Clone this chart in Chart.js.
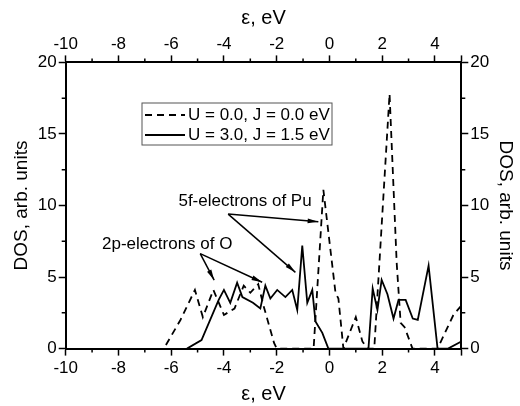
<!DOCTYPE html>
<html>
<head>
<meta charset="utf-8">
<script src="https://cdn.jsdelivr.net/npm/chart.js@4.4.1/dist/chart.umd.min.js"></script>
<style>
  html, body { margin: 0; padding: 0; background: #fff; }
  #wrap { width: 520px; height: 406px; }
</style>
</head>
<body>
<div id="wrap"><canvas id="mychart"></canvas></div>
<script>
// DOS curves (energy in eV, DOS in arb. units)
let dashedX = [-6.2, -5.65, -5.1, -4.8, -4.4, -4.0, -3.6, -3.25, -3.0, -2.7, -2.5, -2.1, -2.0, -0.6, -0.23, 0.23, 0.34, 0.53, 1.0, 1.25, 1.44, 1.7, 2.28, 2.55, 2.7, 2.85, 3.15, 4.1, 4.7, 5.0];
let dashedY = [0.25, 2.0, 4.1, 2.2, 4.1, 2.35, 2.8, 4.4, 3.9, 4.5, 3.0, 0.4, 0, 0, 11.1, 3.9, 3.5, 0, 2.2, 0.5, 0, 0, 17.8, 6.0, 1.8, 1.5, 0, 0, 2.35, 3.0];
let solidX = [-5.4, -4.85, -4.2, -4.0, -3.76, -3.5, -3.3, -2.9, -2.62, -2.43, -2.24, -1.98, -1.67, -1.41, -1.22, -1.03, -0.84, -0.65, -0.53, -0.27, -0.04, 1.48, 1.64, 1.82, 1.98, 2.2, 2.43, 2.62, 2.89, 3.16, 3.35, 3.76, 4.1, 4.5, 5.0];
let solidY = [0, 0.6, 3.4, 4.1, 3.2, 4.6, 3.6, 3.2, 2.8, 4.4, 3.5, 4.1, 3.6, 4.1, 2.7, 7.2, 3.2, 4.1, 1.9, 1.1, 0, 0, 4.2, 2.7, 4.8, 3.8, 2.1, 3.4, 3.4, 2.1, 2.0, 5.8, 0, 0, 0.5];

let seriesLabels = ['U = 0.0, J = 0.0 eV', 'U = 3.0, J = 1.5 eV'];
let xMin = -10, xMax = 5, yMin = 0, yMax = 20;

// annotations: text anchor and arrow start/tips in data units
let notes = [
  { text: '5f-electrons of Pu', at: [-3.2, 10.3], from: [-3.84, 9.4], tips: [[-0.42, 8.86], [-1.29, 5.33]] },
  { text: '2p-electrons of O', at: [-6.15, 7.3], from: [-4.9, 6.64], tips: [[-4.37, 4.78], [-2.55, 4.64]] }
];

const font = 'Liberation Sans, Arial, sans-serif';
Chart.defaults.font.family = font;
Chart.defaults.color = '#000';

function pts(xs, ys) {
  return xs.map((x, i) => ({ x: x, y: ys[i] }));
}

function arrow(c, x1, y1, x2, y2) {
  c.beginPath();
  c.moveTo(x1, y1);
  c.lineTo(x2, y2);
  c.stroke();
  let a = Math.atan2(y2 - y1, x2 - x1);
  c.beginPath();
  c.moveTo(x2, y2);
  c.lineTo(x2 - 11 * Math.cos(a - 0.22), y2 - 11 * Math.sin(a - 0.22));
  c.lineTo(x2 - 11 * Math.cos(a + 0.22), y2 - 11 * Math.sin(a + 0.22));
  c.closePath();
  c.fill();
}

// minor ticks, legend box and arrows
let extras = {
  id: 'extras',
  afterDraw(chart) {
    let c = chart.ctx, a = chart.chartArea;
    let sx = chart.scales.x, sy = chart.scales.y;
    c.save();
    c.strokeStyle = '#000';
    c.fillStyle = '#000';
    c.lineWidth = 1.5;
    // minor ticks
    c.beginPath();
    for (let v = xMin + 1; v < xMax; v += 2) {
      let p = sx.getPixelForValue(v);
      c.moveTo(p, a.bottom); c.lineTo(p, a.bottom + 4);
      c.moveTo(p, a.top); c.lineTo(p, a.top - 4);
    }
    for (let v = 2.5; v < yMax; v += 5) {
      let p = sy.getPixelForValue(v);
      c.moveTo(a.left, p); c.lineTo(a.left - 4, p);
      c.moveTo(a.right, p); c.lineTo(a.right + 4, p);
    }
    c.stroke();

    // legend box
    let bx = 142, by = 103, bw = 190, bh = 42;
    c.lineWidth = 1;
    c.strokeStyle = '#555';
    c.strokeRect(bx, by, bw, bh);
    c.strokeStyle = '#000';
    c.lineWidth = 1.8;
    c.setLineDash([7, 5]);
    c.beginPath(); c.moveTo(bx + 3, by + 12); c.lineTo(bx + 43, by + 12); c.stroke();
    c.setLineDash([]);
    c.beginPath(); c.moveTo(bx + 3, by + 32); c.lineTo(bx + 43, by + 32); c.stroke();
    c.font = '17px ' + font;
    c.textBaseline = 'middle';
    c.textAlign = 'left';
    c.fillText(seriesLabels[0], bx + 46, by + 12);
    c.fillText(seriesLabels[1], bx + 46, by + 32);

    // annotations
    c.lineWidth = 1.5;
    c.font = '17px ' + font;
    c.textAlign = 'center';
    notes.forEach(n => {
      c.fillText(n.text, sx.getPixelForValue(n.at[0]), sy.getPixelForValue(n.at[1]));
      let fx = sx.getPixelForValue(n.from[0]), fy = sy.getPixelForValue(n.from[1]);
      n.tips.forEach(t => arrow(c, fx, fy, sx.getPixelForValue(t[0]), sy.getPixelForValue(t[1])));
    });
    c.restore();
  }
};

function xAxis(pos) {
  return {
    type: 'linear', position: pos, min: xMin, max: xMax,
    border: { color: '#000', width: 2 },
    grid: { drawOnChartArea: false, tickLength: 7, tickColor: '#000', tickWidth: 1.5 },
    ticks: { stepSize: 2, font: { size: 17 }, padding: pos === 'top' ? 1 : 3,
      callback: v => (v < xMax ? v : '') },
    title: { display: true, text: 'ε, eV', font: { size: 20 },
      padding: pos === 'top' ? { top: 0, bottom: 3 } : { top: 0, bottom: 0 } }
  };
}

function yAxis(pos) {
  return {
    type: 'linear', position: pos, min: yMin, max: yMax,
    border: { color: '#000', width: 2 },
    grid: { drawOnChartArea: false, tickLength: 7, tickColor: '#000', tickWidth: 1.5 },
    ticks: { stepSize: 5, font: { size: 17 }, padding: 2 },
    title: { display: true, text: 'DOS, arb. units', font: { size: 19 }, padding: 3 }
  };
}

let ctx = document.querySelector('#mychart').getContext('2d');
let myChart = new Chart(ctx, {
  type: 'line',
  data: {
    datasets: [{
      label: seriesLabels[0],
      data: pts(dashedX, dashedY),
      borderColor: '#000',
      borderWidth: 1.8,
      borderDash: [7, 5],
      pointRadius: 0,
      tension: 0,
      xAxisID: 'x', yAxisID: 'y'
    }, {
      label: seriesLabels[1],
      data: pts(solidX, solidY),
      borderColor: '#000',
      borderWidth: 1.8,
      pointRadius: 0,
      tension: 0,
      xAxisID: 'x', yAxisID: 'y'
    }]
  },
  options: {
    responsive: true,
    maintainAspectRatio: false,
    animation: false,
    layout: { padding: { left: 7, right: 0, top: 6, bottom: 0 } },
    scales: {
      x: xAxis('bottom'),
      x2: xAxis('top'),
      y: yAxis('left'),
      y2: yAxis('right')
    },
    plugins: {
      legend: { display: false },
      tooltip: { enabled: false }
    }
  },
  plugins: [extras]
});
</script>
</body>
</html>
